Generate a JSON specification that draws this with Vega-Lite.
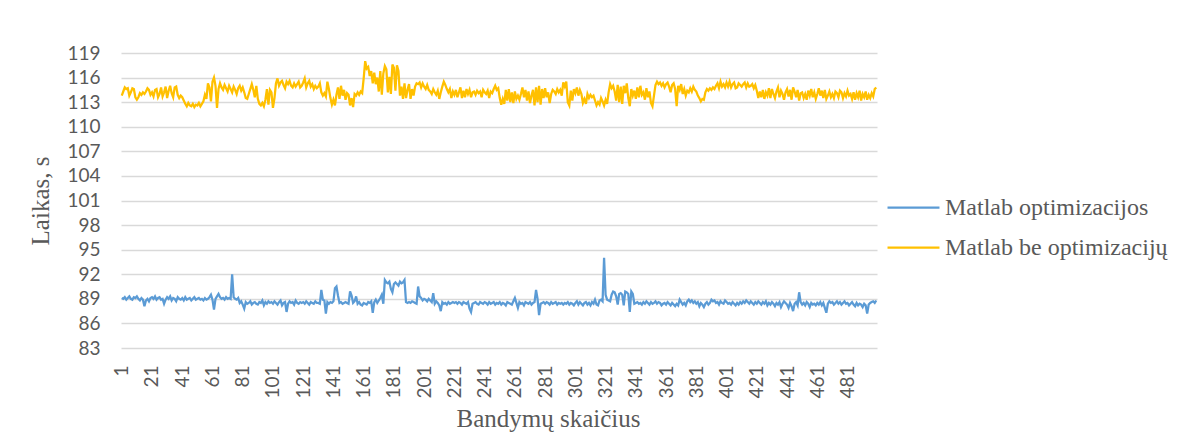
{
  "$schema": "https://vega.github.io/schema/vega-lite/v6.json",
  "width": 756,
  "height": 295,
  "autosize": {"type": "none"},
  "padding": {"left": 121, "top": 53, "right": 302, "bottom": 93},
  "background": "white",
  "config": {
    "view": {"stroke": null},
    "font": "Lato"
  },
  "data": {
    "values": [
      {"t":1,"o":89.1,"b":113.8},{"t":2,"o":89.0,"b":114.3},{"t":3,"o":89.2,"b":114.8},{"t":4,"o":88.9,"b":114.6},{"t":5,"o":89.1,"b":114.7},{"t":6,"o":89.3,"b":113.8},{"t":7,"o":89.0,"b":114.2},{"t":8,"o":88.9,"b":114.7},{"t":9,"o":89.2,"b":114.6},{"t":10,"o":89.1,"b":113.6},
      {"t":11,"o":89.3,"b":113.3},{"t":12,"o":89.0,"b":113.6},{"t":13,"o":88.8,"b":114.1},{"t":14,"o":89.1,"b":113.9},{"t":15,"o":88.9,"b":114.2},{"t":16,"o":88.1,"b":114.0},{"t":17,"o":88.8,"b":114.3},{"t":18,"o":89.0,"b":114.7},{"t":19,"o":88.7,"b":114.5},{"t":20,"o":89.1,"b":113.9},
      {"t":21,"o":89.2,"b":114.2},{"t":22,"o":89.0,"b":113.7},{"t":23,"o":89.3,"b":114.5},{"t":24,"o":88.9,"b":114.6},{"t":25,"o":89.1,"b":113.6},{"t":26,"o":89.2,"b":114.0},{"t":27,"o":88.9,"b":114.8},{"t":28,"o":89.0,"b":113.7},{"t":29,"o":88.4,"b":114.2},{"t":30,"o":88.9,"b":114.9},
      {"t":31,"o":89.2,"b":113.5},{"t":32,"o":89.0,"b":114.4},{"t":33,"o":89.3,"b":115.0},{"t":34,"o":88.8,"b":114.1},{"t":35,"o":89.1,"b":113.6},{"t":36,"o":89.0,"b":114.8},{"t":37,"o":88.7,"b":114.9},{"t":38,"o":89.2,"b":113.9},{"t":39,"o":89.0,"b":113.5},{"t":40,"o":88.9,"b":113.8},
      {"t":41,"o":89.1,"b":113.6},{"t":42,"o":88.8,"b":113.2},{"t":43,"o":89.2,"b":112.8},{"t":44,"o":88.9,"b":112.5},{"t":45,"o":89.0,"b":112.9},{"t":46,"o":89.1,"b":112.6},{"t":47,"o":88.8,"b":112.5},{"t":48,"o":89.0,"b":112.8},{"t":49,"o":89.2,"b":112.4},{"t":50,"o":88.9,"b":112.7},
      {"t":51,"o":89.0,"b":112.6},{"t":52,"o":89.1,"b":112.9},{"t":53,"o":88.9,"b":112.5},{"t":54,"o":89.0,"b":112.8},{"t":55,"o":88.8,"b":113.1},{"t":56,"o":89.1,"b":113.9},{"t":57,"o":88.9,"b":113.4},{"t":58,"o":89.0,"b":115.3},{"t":59,"o":89.2,"b":114.8},{"t":60,"o":89.5,"b":113.1},
      {"t":61,"o":88.9,"b":115.5},{"t":62,"o":87.7,"b":116.0},{"t":63,"o":89.0,"b":115.0},{"t":64,"o":89.3,"b":112.3},{"t":65,"o":89.6,"b":114.6},{"t":66,"o":89.2,"b":115.3},{"t":67,"o":89.0,"b":114.8},{"t":68,"o":89.1,"b":114.5},{"t":69,"o":88.9,"b":115.1},{"t":70,"o":89.2,"b":114.7},
      {"t":71,"o":89.0,"b":114.3},{"t":72,"o":89.1,"b":115.0},{"t":73,"o":89.0,"b":114.6},{"t":74,"o":92.0,"b":114.2},{"t":75,"o":89.2,"b":114.9},{"t":76,"o":89.0,"b":114.5},{"t":77,"o":88.9,"b":114.0},{"t":78,"o":89.1,"b":114.7},{"t":79,"o":88.5,"b":115.0},{"t":80,"o":88.7,"b":114.4},
      {"t":81,"o":88.3,"b":114.8},{"t":82,"o":87.8,"b":114.2},{"t":83,"o":88.6,"b":113.5},{"t":84,"o":88.4,"b":113.4},{"t":85,"o":88.5,"b":114.0},{"t":86,"o":88.7,"b":114.6},{"t":87,"o":88.3,"b":115.2},{"t":88,"o":88.5,"b":114.5},{"t":89,"o":88.6,"b":113.6},{"t":90,"o":88.4,"b":115.0},
      {"t":91,"o":88.3,"b":113.4},{"t":92,"o":88.6,"b":112.8},{"t":93,"o":88.5,"b":112.6},{"t":94,"o":88.8,"b":112.9},{"t":95,"o":88.2,"b":112.5},{"t":96,"o":88.6,"b":113.3},{"t":97,"o":88.4,"b":114.6},{"t":98,"o":88.7,"b":112.7},{"t":99,"o":88.5,"b":114.5},{"t":100,"o":88.6,"b":114.2},
      {"t":101,"o":88.4,"b":112.3},{"t":102,"o":88.7,"b":113.5},{"t":103,"o":88.5,"b":115.3},{"t":104,"o":88.3,"b":115.9},{"t":105,"o":88.6,"b":115.0},{"t":106,"o":88.8,"b":115.4},{"t":107,"o":88.2,"b":115.6},{"t":108,"o":88.5,"b":115.1},{"t":109,"o":88.6,"b":114.7},{"t":110,"o":87.4,"b":115.5},
      {"t":111,"o":88.4,"b":115.2},{"t":112,"o":88.7,"b":115.6},{"t":113,"o":88.5,"b":115.0},{"t":114,"o":88.6,"b":114.8},{"t":115,"o":88.3,"b":115.3},{"t":116,"o":88.8,"b":114.9},{"t":117,"o":88.5,"b":115.2},{"t":118,"o":88.4,"b":115.5},{"t":119,"o":88.6,"b":114.8},{"t":120,"o":88.5,"b":115.0},
      {"t":121,"o":88.6,"b":115.4},{"t":122,"o":88.4,"b":115.9},{"t":123,"o":88.7,"b":114.8},{"t":124,"o":88.5,"b":115.3},{"t":125,"o":88.3,"b":115.6},{"t":126,"o":88.6,"b":114.9},{"t":127,"o":88.5,"b":115.2},{"t":128,"o":88.4,"b":114.6},{"t":129,"o":88.7,"b":115.0},{"t":130,"o":88.5,"b":114.7},
      {"t":131,"o":88.5,"b":114.9},{"t":132,"o":88.4,"b":115.3},{"t":133,"o":90.1,"b":114.2},{"t":134,"o":88.9,"b":113.8},{"t":135,"o":88.8,"b":114.1},{"t":136,"o":87.2,"b":113.7},{"t":137,"o":88.6,"b":115.5},{"t":138,"o":88.4,"b":114.6},{"t":139,"o":88.6,"b":113.5},{"t":140,"o":88.5,"b":112.7},
      {"t":141,"o":88.7,"b":113.3},{"t":142,"o":90.3,"b":112.6},{"t":143,"o":90.5,"b":113.9},{"t":144,"o":89.4,"b":114.8},{"t":145,"o":88.5,"b":113.4},{"t":146,"o":88.6,"b":115.0},{"t":147,"o":88.4,"b":113.8},{"t":148,"o":88.5,"b":114.5},{"t":149,"o":88.6,"b":113.3},{"t":150,"o":88.5,"b":114.1},
      {"t":151,"o":88.4,"b":113.9},{"t":152,"o":89.9,"b":112.6},{"t":153,"o":89.4,"b":113.5},{"t":154,"o":88.5,"b":112.4},{"t":155,"o":88.7,"b":114.0},{"t":156,"o":89.3,"b":113.8},{"t":157,"o":88.4,"b":114.2},{"t":158,"o":88.6,"b":113.9},{"t":159,"o":88.3,"b":114.3},{"t":160,"o":88.2,"b":114.1},
      {"t":161,"o":88.5,"b":115.9},{"t":162,"o":88.4,"b":118.0},{"t":163,"o":88.3,"b":117.1},{"t":164,"o":88.6,"b":117.3},{"t":165,"o":88.5,"b":116.2},{"t":166,"o":88.7,"b":116.8},{"t":167,"o":87.3,"b":115.3},{"t":168,"o":88.6,"b":116.6},{"t":169,"o":88.9,"b":115.2},{"t":170,"o":88.5,"b":116.0},
      {"t":171,"o":88.8,"b":114.3},{"t":172,"o":89.1,"b":116.8},{"t":173,"o":89.5,"b":113.9},{"t":174,"o":88.4,"b":116.5},{"t":175,"o":91.3,"b":117.4},{"t":176,"o":91.0,"b":117.0},{"t":177,"o":90.9,"b":114.2},{"t":178,"o":91.1,"b":116.1},{"t":179,"o":90.2,"b":114.0},{"t":180,"o":89.8,"b":117.6},
      {"t":181,"o":90.8,"b":117.2},{"t":182,"o":91.0,"b":114.4},{"t":183,"o":90.8,"b":117.5},{"t":184,"o":90.6,"b":116.8},{"t":185,"o":91.1,"b":113.8},{"t":186,"o":90.9,"b":114.9},{"t":187,"o":91.0,"b":113.4},{"t":188,"o":91.3,"b":115.3},{"t":189,"o":88.6,"b":113.5},{"t":190,"o":88.5,"b":114.5},
      {"t":191,"o":88.6,"b":115.2},{"t":192,"o":88.5,"b":113.4},{"t":193,"o":88.7,"b":114.6},{"t":194,"o":88.6,"b":113.8},{"t":195,"o":88.5,"b":114.9},{"t":196,"o":88.4,"b":115.3},{"t":197,"o":90.5,"b":115.2},{"t":198,"o":89.3,"b":115.4},{"t":199,"o":89.1,"b":114.8},{"t":200,"o":88.8,"b":115.3},
      {"t":201,"o":89.0,"b":114.9},{"t":202,"o":88.9,"b":114.6},{"t":203,"o":88.7,"b":115.1},{"t":204,"o":89.0,"b":114.5},{"t":205,"o":88.8,"b":114.3},{"t":206,"o":88.6,"b":114.0},{"t":207,"o":89.7,"b":114.6},{"t":208,"o":88.4,"b":114.2},{"t":209,"o":88.7,"b":113.9},{"t":210,"o":88.5,"b":114.4},
      {"t":211,"o":88.2,"b":113.4},{"t":212,"o":87.5,"b":114.2},{"t":213,"o":88.6,"b":114.9},{"t":214,"o":88.4,"b":115.5},{"t":215,"o":88.5,"b":115.1},{"t":216,"o":88.3,"b":114.6},{"t":217,"o":88.6,"b":114.2},{"t":218,"o":88.4,"b":114.6},{"t":219,"o":88.5,"b":113.5},{"t":220,"o":88.6,"b":114.3},
      {"t":221,"o":88.5,"b":113.9},{"t":222,"o":88.6,"b":114.5},{"t":223,"o":88.4,"b":113.6},{"t":224,"o":88.6,"b":114.2},{"t":225,"o":88.5,"b":114.8},{"t":226,"o":88.3,"b":113.5},{"t":227,"o":88.6,"b":114.4},{"t":228,"o":88.5,"b":113.6},{"t":229,"o":88.4,"b":114.6},{"t":230,"o":88.6,"b":114.0},
      {"t":231,"o":87.8,"b":114.5},{"t":232,"o":87.4,"b":113.6},{"t":233,"o":88.4,"b":114.2},{"t":234,"o":88.5,"b":114.3},{"t":235,"o":88.6,"b":113.9},{"t":236,"o":88.4,"b":114.4},{"t":237,"o":88.3,"b":114.1},{"t":238,"o":88.6,"b":114.3},{"t":239,"o":88.5,"b":113.6},{"t":240,"o":88.4,"b":114.5},
      {"t":241,"o":88.6,"b":114.2},{"t":242,"o":88.5,"b":114.0},{"t":243,"o":88.3,"b":114.4},{"t":244,"o":88.6,"b":113.5},{"t":245,"o":88.4,"b":114.3},{"t":246,"o":88.5,"b":114.1},{"t":247,"o":88.6,"b":114.6},{"t":248,"o":88.3,"b":115.0},{"t":249,"o":88.5,"b":114.5},{"t":250,"o":88.4,"b":114.7},
      {"t":251,"o":88.6,"b":113.5},{"t":252,"o":88.3,"b":112.7},{"t":253,"o":88.5,"b":113.4},{"t":254,"o":88.4,"b":112.8},{"t":255,"o":88.2,"b":114.5},{"t":256,"o":88.6,"b":113.2},{"t":257,"o":88.5,"b":114.6},{"t":258,"o":88.4,"b":113.0},{"t":259,"o":88.3,"b":114.2},{"t":260,"o":88.7,"b":112.9},
      {"t":261,"o":89.1,"b":114.3},{"t":262,"o":88.5,"b":113.4},{"t":263,"o":87.9,"b":113.8},{"t":264,"o":88.6,"b":113.3},{"t":265,"o":88.4,"b":114.0},{"t":266,"o":88.5,"b":114.8},{"t":267,"o":88.2,"b":113.6},{"t":268,"o":88.6,"b":114.5},{"t":269,"o":88.5,"b":113.2},{"t":270,"o":88.4,"b":114.3},
      {"t":271,"o":88.6,"b":112.9},{"t":272,"o":88.3,"b":113.8},{"t":273,"o":88.5,"b":114.5},{"t":274,"o":88.6,"b":112.6},{"t":275,"o":90.1,"b":114.8},{"t":276,"o":89.0,"b":113.0},{"t":277,"o":87.0,"b":115.0},{"t":278,"o":88.4,"b":112.7},{"t":279,"o":88.5,"b":114.6},{"t":280,"o":88.6,"b":113.5},
      {"t":281,"o":88.4,"b":114.7},{"t":282,"o":88.6,"b":113.6},{"t":283,"o":88.5,"b":114.2},{"t":284,"o":88.3,"b":112.9},{"t":285,"o":88.6,"b":114.0},{"t":286,"o":88.4,"b":114.5},{"t":287,"o":88.5,"b":114.3},{"t":288,"o":88.6,"b":114.0},{"t":289,"o":88.3,"b":114.6},{"t":290,"o":88.5,"b":114.2},
      {"t":291,"o":88.4,"b":114.5},{"t":292,"o":88.5,"b":113.8},{"t":293,"o":88.3,"b":115.4},{"t":294,"o":88.5,"b":114.9},{"t":295,"o":88.4,"b":115.5},{"t":296,"o":88.6,"b":113.0},{"t":297,"o":88.3,"b":112.6},{"t":298,"o":88.5,"b":114.4},{"t":299,"o":88.4,"b":113.2},{"t":300,"o":88.2,"b":114.6},
      {"t":301,"o":88.5,"b":114.1},{"t":302,"o":88.7,"b":114.8},{"t":303,"o":88.3,"b":113.8},{"t":304,"o":88.6,"b":114.5},{"t":305,"o":88.4,"b":114.0},{"t":306,"o":88.2,"b":112.9},{"t":307,"o":88.5,"b":113.4},{"t":308,"o":88.6,"b":112.8},{"t":309,"o":88.3,"b":114.0},{"t":310,"o":88.5,"b":113.5},
      {"t":311,"o":88.2,"b":113.9},{"t":312,"o":88.6,"b":113.6},{"t":313,"o":88.4,"b":113.8},{"t":314,"o":88.9,"b":113.2},{"t":315,"o":88.3,"b":112.6},{"t":316,"o":88.2,"b":113.0},{"t":317,"o":88.8,"b":112.7},{"t":318,"o":88.9,"b":113.5},{"t":319,"o":88.7,"b":113.1},{"t":320,"o":94.0,"b":112.6},
      {"t":321,"o":89.5,"b":113.3},{"t":322,"o":88.9,"b":112.8},{"t":323,"o":88.8,"b":114.2},{"t":324,"o":88.7,"b":115.2},{"t":325,"o":89.5,"b":114.7},{"t":326,"o":89.9,"b":115.0},{"t":327,"o":89.8,"b":114.3},{"t":328,"o":89.3,"b":113.2},{"t":329,"o":88.3,"b":115.1},{"t":330,"o":89.6,"b":113.0},
      {"t":331,"o":89.7,"b":114.9},{"t":332,"o":89.5,"b":112.8},{"t":333,"o":88.2,"b":115.0},{"t":334,"o":89.9,"b":114.1},{"t":335,"o":89.8,"b":115.3},{"t":336,"o":89.6,"b":113.5},{"t":337,"o":87.4,"b":112.5},{"t":338,"o":89.9,"b":114.6},{"t":339,"o":89.6,"b":113.8},{"t":340,"o":88.4,"b":114.4},
      {"t":341,"o":88.5,"b":113.4},{"t":342,"o":88.6,"b":114.8},{"t":343,"o":88.4,"b":113.6},{"t":344,"o":88.5,"b":115.0},{"t":345,"o":88.3,"b":113.9},{"t":346,"o":88.6,"b":114.2},{"t":347,"o":88.4,"b":113.3},{"t":348,"o":88.7,"b":114.7},{"t":349,"o":88.5,"b":113.6},{"t":350,"o":88.3,"b":114.3},
      {"t":351,"o":88.6,"b":112.9},{"t":352,"o":88.4,"b":112.5},{"t":353,"o":88.5,"b":113.8},{"t":354,"o":88.7,"b":115.1},{"t":355,"o":88.4,"b":115.5},{"t":356,"o":88.6,"b":115.2},{"t":357,"o":88.5,"b":115.4},{"t":358,"o":88.2,"b":115.0},{"t":359,"o":88.4,"b":115.3},{"t":360,"o":88.5,"b":114.8},
      {"t":361,"o":88.3,"b":115.2},{"t":362,"o":88.6,"b":115.4},{"t":363,"o":88.4,"b":114.9},{"t":364,"o":88.2,"b":114.2},{"t":365,"o":88.5,"b":115.1},{"t":366,"o":88.3,"b":115.3},{"t":367,"o":88.1,"b":114.6},{"t":368,"o":88.4,"b":112.5},{"t":369,"o":88.2,"b":115.0},{"t":370,"o":88.9,"b":114.5},
      {"t":371,"o":88.6,"b":115.2},{"t":372,"o":88.3,"b":114.0},{"t":373,"o":88.5,"b":114.6},{"t":374,"o":88.2,"b":113.8},{"t":375,"o":88.7,"b":114.4},{"t":376,"o":88.9,"b":114.2},{"t":377,"o":88.6,"b":114.7},{"t":378,"o":88.8,"b":114.3},{"t":379,"o":88.5,"b":114.9},{"t":380,"o":88.7,"b":114.5},
      {"t":381,"o":88.4,"b":114.3},{"t":382,"o":88.6,"b":113.8},{"t":383,"o":88.1,"b":113.5},{"t":384,"o":88.5,"b":113.1},{"t":385,"o":88.3,"b":113.4},{"t":386,"o":88.0,"b":113.3},{"t":387,"o":88.4,"b":114.2},{"t":388,"o":88.6,"b":114.6},{"t":389,"o":88.3,"b":114.4},{"t":390,"o":88.5,"b":114.7},
      {"t":391,"o":88.9,"b":114.5},{"t":392,"o":88.7,"b":114.8},{"t":393,"o":88.8,"b":114.6},{"t":394,"o":88.5,"b":115.0},{"t":395,"o":88.6,"b":115.3},{"t":396,"o":88.3,"b":114.7},{"t":397,"o":88.7,"b":115.5},{"t":398,"o":88.5,"b":114.9},{"t":399,"o":88.4,"b":115.2},{"t":400,"o":88.8,"b":114.8},
      {"t":401,"o":88.6,"b":115.4},{"t":402,"o":88.4,"b":114.9},{"t":403,"o":88.5,"b":115.5},{"t":404,"o":88.3,"b":114.8},{"t":405,"o":88.6,"b":115.2},{"t":406,"o":88.4,"b":115.4},{"t":407,"o":88.2,"b":114.7},{"t":408,"o":88.5,"b":114.8},{"t":409,"o":88.3,"b":115.3},{"t":410,"o":88.6,"b":115.1},
      {"t":411,"o":88.4,"b":114.9},{"t":412,"o":88.7,"b":115.2},{"t":413,"o":88.5,"b":115.4},{"t":414,"o":88.8,"b":114.8},{"t":415,"o":88.6,"b":115.3},{"t":416,"o":88.4,"b":114.9},{"t":417,"o":88.7,"b":115.0},{"t":418,"o":88.5,"b":115.2},{"t":419,"o":88.3,"b":114.7},{"t":420,"o":88.6,"b":115.1},
      {"t":421,"o":88.4,"b":114.4},{"t":422,"o":88.7,"b":113.5},{"t":423,"o":88.5,"b":114.3},{"t":424,"o":88.3,"b":113.6},{"t":425,"o":88.6,"b":114.5},{"t":426,"o":88.4,"b":113.4},{"t":427,"o":88.7,"b":114.2},{"t":428,"o":88.2,"b":113.8},{"t":429,"o":88.5,"b":114.7},{"t":430,"o":88.3,"b":113.5},
      {"t":431,"o":88.6,"b":114.6},{"t":432,"o":88.4,"b":114.0},{"t":433,"o":88.1,"b":113.5},{"t":434,"o":88.5,"b":114.3},{"t":435,"o":88.3,"b":114.8},{"t":436,"o":88.6,"b":113.6},{"t":437,"o":88.0,"b":114.4},{"t":438,"o":88.4,"b":114.0},{"t":439,"o":88.7,"b":113.3},{"t":440,"o":88.5,"b":114.2},
      {"t":441,"o":88.3,"b":114.6},{"t":442,"o":87.9,"b":113.7},{"t":443,"o":88.5,"b":114.5},{"t":444,"o":88.1,"b":113.3},{"t":445,"o":87.5,"b":114.8},{"t":446,"o":88.4,"b":114.3},{"t":447,"o":88.6,"b":113.6},{"t":448,"o":88.2,"b":114.5},{"t":449,"o":89.8,"b":113.2},{"t":450,"o":88.6,"b":114.1},
      {"t":451,"o":88.3,"b":114.2},{"t":452,"o":88.5,"b":113.5},{"t":453,"o":88.2,"b":114.0},{"t":454,"o":88.6,"b":113.3},{"t":455,"o":88.4,"b":114.4},{"t":456,"o":88.0,"b":113.8},{"t":457,"o":88.5,"b":114.6},{"t":458,"o":88.3,"b":113.6},{"t":459,"o":88.4,"b":114.2},{"t":460,"o":88.2,"b":113.4},
      {"t":461,"o":88.5,"b":114.0},{"t":462,"o":88.3,"b":114.7},{"t":463,"o":88.6,"b":113.8},{"t":464,"o":88.2,"b":114.4},{"t":465,"o":88.5,"b":113.5},{"t":466,"o":87.9,"b":114.5},{"t":467,"o":87.3,"b":113.4},{"t":468,"o":88.4,"b":113.8},{"t":469,"o":88.7,"b":114.3},{"t":470,"o":88.5,"b":113.6},
      {"t":471,"o":88.6,"b":114.0},{"t":472,"o":88.3,"b":113.5},{"t":473,"o":88.5,"b":114.3},{"t":474,"o":88.7,"b":114.1},{"t":475,"o":88.4,"b":113.6},{"t":476,"o":88.6,"b":114.4},{"t":477,"o":88.3,"b":114.2},{"t":478,"o":88.5,"b":113.5},{"t":479,"o":88.7,"b":114.1},{"t":480,"o":88.4,"b":113.7},
      {"t":481,"o":88.5,"b":114.4},{"t":482,"o":88.2,"b":113.8},{"t":483,"o":88.4,"b":114.0},{"t":484,"o":88.6,"b":113.4},{"t":485,"o":88.3,"b":114.2},{"t":486,"o":88.1,"b":113.3},{"t":487,"o":88.5,"b":114.1},{"t":488,"o":88.2,"b":113.6},{"t":489,"o":88.4,"b":114.4},{"t":490,"o":88.3,"b":113.2},
      {"t":491,"o":88.0,"b":114.0},{"t":492,"o":88.4,"b":113.6},{"t":493,"o":88.2,"b":114.3},{"t":494,"o":87.2,"b":113.3},{"t":495,"o":88.3,"b":113.9},{"t":496,"o":88.5,"b":113.5},{"t":497,"o":88.6,"b":114.1},{"t":498,"o":88.7,"b":113.7},{"t":499,"o":88.5,"b":114.6},{"t":500,"o":88.8,"b":114.8}
    ]
  },
  "transform": [
    {"fold": ["o", "b"], "as": ["series", "value"]}
  ],
  "mark": {"type": "line", "strokeWidth": 2.25, "interpolate": "linear"},
  "encoding": {
    "x": {
      "field": "t",
      "type": "quantitative",
      "scale": {"domain": [0.5, 500.5], "nice": false, "zero": false},
      "axis": {
        "values": [1, 21, 41, 61, 81, 101, 121, 141, 161, 181, 201, 221, 241, 261, 281, 301, 321, 341, 361, 381, 401, 421, 441, 461, 481],
        "labelAngle": -90,
        "labelAlign": "right",
        "labelBaseline": "middle",
        "labelFont": "Lato",
        "labelFontSize": 19,
        "labelColor": "#595959",
        "labelPadding": 17,
        "labelOverlap": false,
        "labelFlush": false,
        "grid": false,
        "domain": false,
        "ticks": false,
        "title": "Bandymų skaičius",
        "titleFont": "Liberation Serif",
        "titleFontSize": 25,
        "titleFontWeight": "normal",
        "titleColor": "#595959",
        "titleAnchor": null,
        "titleAlign": "center",
        "titleBaseline": "alphabetic",
        "titleX": 427,
        "titleY": 78
      }
    },
    "y": {
      "field": "value",
      "type": "quantitative",
      "scale": {"domain": [83, 119], "nice": false, "zero": false},
      "axis": {
        "values": [83, 86, 89, 92, 95, 98, 101, 104, 107, 110, 113, 116, 119],
        "labelFont": "Lato",
        "labelFontSize": 19,
        "labelColor": "#595959",
        "labelPadding": 21,
        "grid": true,
        "gridColor": "#D9D9D9",
        "gridWidth": 1.3,
        "domain": false,
        "ticks": false,
        "title": "Laikas, s",
        "titleFont": "Liberation Serif",
        "titleFontSize": 25,
        "titleFontWeight": "normal",
        "titleColor": "#595959",
        "titleAngle": -90,
        "titleAlign": "center",
        "titleBaseline": "middle",
        "titleX": -81,
        "titleY": 147.5
      }
    },
    "color": {
      "field": "series",
      "type": "nominal",
      "scale": {"domain": ["o", "b"], "range": ["#5B9BD5", "#FFC000"]},
      "legend": {
        "title": null,
        "orient": "none",
        "legendX": 765,
        "legendY": 127,
        "direction": "vertical",
        "symbolType": "stroke",
        "symbolSize": 2700,
        "symbolStrokeWidth": 2.25,
        "labelFont": "Liberation Serif",
        "labelFontSize": 24,
        "labelColor": "#595959",
        "labelOffset": 4,
        "labelLimit": 0,
        "rowPadding": -5,
        "labelExpr": "datum.value == 'o' ? 'Matlab optimizacijos' : 'Matlab be optimizacijų'"
      }
    }
  }
}
